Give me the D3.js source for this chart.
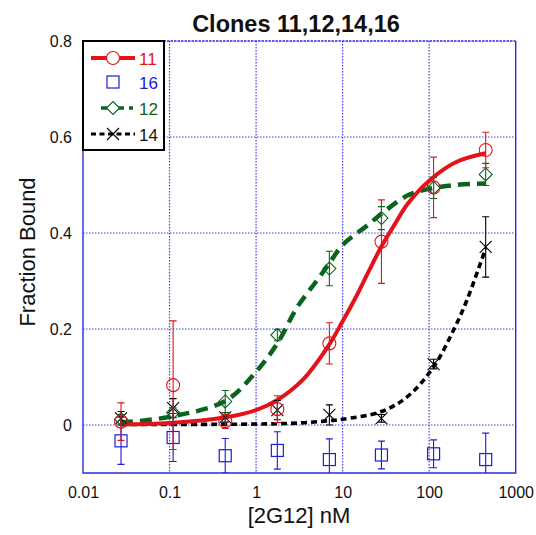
<!DOCTYPE html>
<html>
<head>
<meta charset="utf-8">
<script src="https://cdn.jsdelivr.net/npm/d3@7"></script>
<style>
  html, body { margin: 0; padding: 0; background: #ffffff; }
  svg { display: block; }
  text { font-family: Arial, "Liberation Sans", sans-serif; }
</style>
</head>
<body>
<svg id="chart" width="536" height="535"></svg>
<script>
// Antibody concentrations, nM (4-fold dilution series)
const conc = [0.0275, 0.11, 0.44, 1.76, 7.03, 28.1, 112.5, 450];

// Measured fraction bound and error for each clone
const clone11 = [0.007, 0.083, 0.008, 0.033, 0.170, 0.382, 0.495, 0.573];
const clone11Err = [0.039, 0.134, 0.015, 0.028, 0.043, 0.087, 0.063, 0.037];
const clone16 = [-0.033, -0.026, -0.064, -0.053, -0.072, -0.0625, -0.060, -0.072];
const clone16Err = [0.049, 0.050, 0.036, 0.039, 0.043, 0.029, 0.029, 0.055];
const clone12 = [0.012, 0.026, 0.049, 0.1875, 0.326, 0.431, 0.494, 0.522];
const clone12Err = [0.010, 0.010, 0.023, 0.012, 0.036, 0.024, 0.022, 0.023];
const clone14 = [0.014, 0.035, 0.016, 0.031, 0.021, 0.014, 0.127, 0.371];
const clone14Err = [0.014, 0.020, 0.010, 0.020, 0.021, 0.008, 0.010, 0.063];

// Fitted binding curves, sampled
const fit11X = [0.0275, 0.1, 0.44, 1, 1.76, 3.5, 7.03, 10, 14, 20, 28.1, 40, 56, 100, 200, 450];
const fit11Y = [0.001, 0.004, 0.016, 0.031, 0.052, 0.095, 0.168, 0.216, 0.264, 0.320, 0.372, 0.418, 0.460, 0.509, 0.547, 0.566];
const fit12X = [0.0275, 0.1, 0.44, 1, 1.76, 3, 5, 7.03, 10, 20, 28.1, 56, 100, 200, 450];
const fit12Y = [0.005, 0.017, 0.050, 0.111, 0.170, 0.246, 0.300, 0.337, 0.375, 0.418, 0.440, 0.478, 0.492, 0.500, 0.503];
const fit14X = [0.0275, 1, 3, 7.03, 10, 28.1, 56, 112.5, 200, 273, 450];
const fit14Y = [0.001, 0.002, 0.004, 0.009, 0.012, 0.028, 0.059, 0.121, 0.205, 0.260, 0.368];

// Axis ticks
const xTicks = [0.01, 0.1, 1, 10, 100, 1000];
const xTickLabels = ["0.01", "0.1", "1", "10", "100", "1000"];
const yTicks = [0, 0.2, 0.4, 0.6, 0.8];
const yTickLabels = ["0", "0.2", "0.4", "0.6", "0.8"];

const legendNames = ["11", "16", "12", "14"];

const RED = "#e3131b", BLUE = "#1c1cd6", GREEN = "#0a6420", BLACK = "#000000";
const GRID = "#4040f0";

const svg = d3.select("#chart");
const pLeft = 83, pRight = 515.7, pTop = 41, pBottom = 473;

const x = d3.scaleLog().domain([0.01, 1000]).range([pLeft, pRight]);
const y = d3.scaleLinear().domain([-0.1, 0.8]).range([pBottom, pTop]);

// clip for marks
svg.append("defs").append("clipPath").attr("id", "plotClip")
  .append("rect").attr("x", pLeft).attr("y", pTop).attr("width", pRight - pLeft).attr("height", pBottom - pTop);

// grid lines
const grid = svg.append("g");
grid.selectAll("line.vx").data(xTicks.slice(1, -1)).join("line")
  .attr("x1", d => x(d)).attr("x2", d => x(d)).attr("y1", pTop).attr("y2", pBottom)
  .attr("stroke", GRID).attr("stroke-width", 1.2).attr("stroke-dasharray", "1.5,1.5");
grid.selectAll("line.hy").data(yTicks.slice(0, -1)).join("line")
  .attr("x1", pLeft).attr("x2", pRight).attr("y1", d => y(d)).attr("y2", d => y(d))
  .attr("stroke", GRID).attr("stroke-width", 1.2).attr("stroke-dasharray", "1.5,1.5");

// frame
svg.append("line").attr("x1", pLeft).attr("x2", pRight).attr("y1", pTop).attr("y2", pTop)
  .attr("stroke", "#2a2ae0").attr("stroke-width", 1.6).attr("stroke-dasharray", "2.5,1");
svg.append("path")
  .attr("d", `M${pRight},${pTop}V${pBottom}H${pLeft}V${pTop}`)
  .attr("fill", "none").attr("stroke", "#2a2ae0").attr("stroke-width", 1.4);

// axes (labels only)
const xAxis = d3.axisBottom(x).tickValues(xTicks).tickSize(0).tickPadding(14)
  .tickFormat((d, i) => xTickLabels[i]);
svg.append("g").attr("transform", `translate(0,${pBottom})`).call(xAxis)
  .call(g => g.select(".domain").remove())
  .selectAll("text").attr("font-size", 16).attr("fill", "#111")
  .attr("font-family", "Arial, 'Liberation Sans', sans-serif");

const yAxis = d3.axisLeft(y).tickValues(yTicks).tickSize(0).tickPadding(11)
  .tickFormat((d, i) => yTickLabels[i]);
svg.append("g").attr("transform", `translate(${pLeft},0)`).call(yAxis)
  .call(g => g.select(".domain").remove())
  .selectAll("text").attr("font-size", 16).attr("fill", "#111")
  .attr("font-family", "Arial, 'Liberation Sans', sans-serif");

// titles
svg.append("text").attr("x", 296).attr("y", 32).attr("text-anchor", "middle")
  .attr("font-size", 23.5).attr("font-weight", "bold").attr("fill", "#111")
  .text("Clones 11,12,14,16");
svg.append("text").attr("x", 299).attr("y", 522.5).attr("text-anchor", "middle")
  .attr("font-size", 22).attr("fill", "#111").text("[2G12] nM");
svg.append("text").attr("transform", "translate(35,252) rotate(-90)").attr("text-anchor", "middle")
  .attr("font-size", 22).attr("fill", "#111").text("Fraction Bound");

// plot content
const plot = svg.append("g").attr("clip-path", "url(#plotClip)");

const line = d3.line().x(d => x(d[0])).y(d => y(d[1])).curve(d3.curveCatmullRom.alpha(0.5));

function drawFit(xs, ys, color, width, dash) {
  plot.append("path").datum(xs.map((v, i) => [v, ys[i]]))
    .attr("d", line).attr("fill", "none").attr("stroke", color)
    .attr("stroke-width", width).attr("stroke-dasharray", dash || null)
    .attr("stroke-linecap", "butt");
}
drawFit(fit14X, fit14Y, BLACK, 3.6, "6,4");
drawFit(fit12X, fit12Y, GREEN, 4.5, "12,7");
drawFit(fit11X, fit11Y, RED, 4, null);

// marker shapes, centred on origin
function marker(g, kind, color) {
  if (kind === "circle") {
    g.append("circle").attr("r", 6.5).attr("fill", "none").attr("stroke", color).attr("stroke-width", 1.1);
  } else if (kind === "square") {
    g.append("rect").attr("x", -6).attr("y", -6).attr("width", 12).attr("height", 12)
      .attr("fill", "none").attr("stroke", color).attr("stroke-width", 1.2);
  } else if (kind === "diamond") {
    g.append("path").attr("d", "M0,-6.5L6.5,0L0,6.5L-6.5,0Z")
      .attr("fill", "none").attr("stroke", color).attr("stroke-width", 1.1);
  } else if (kind === "x") {
    g.append("path").attr("d", "M-6,-6L6,6M-6,6L6,-6")
      .attr("fill", "none").attr("stroke", color).attr("stroke-width", 1.1);
  }
}

function drawSeries(vals, errs, color, kind) {
  const g = plot.append("g");
  conc.forEach((c, i) => {
    const cx = x(c), lo = y(vals[i] - errs[i]), hi = y(vals[i] + errs[i]);
    g.append("path")
      .attr("d", `M${cx},${lo}V${hi}M${cx - 3.5},${hi}H${cx + 3.5}M${cx - 3.5},${lo}H${cx + 3.5}`)
      .attr("fill", "none").attr("stroke", color).attr("stroke-width", 1.1);
    const m = g.append("g").attr("transform", `translate(${cx},${y(vals[i])})`);
    marker(m, kind, color);
  });
}
drawSeries(clone16, clone16Err, BLUE, "square");
drawSeries(clone14, clone14Err, BLACK, "x");
drawSeries(clone12, clone12Err, GREEN, "diamond");
drawSeries(clone11, clone11Err, RED, "circle");

// legend
const legend = svg.append("g");
legend.append("rect").attr("x", 83).attr("y", 41).attr("width", 81).attr("height", 109)
  .attr("fill", "#ffffff").attr("stroke", "#000").attr("stroke-width", 2);
const legendRows = [
  { name: legendNames[0], color: RED, kind: "circle", x1: 91, x2: 135, w: 4, dash: null, y: 58 },
  { name: legendNames[1], color: BLUE, kind: "square", x1: null, x2: null, w: 0, dash: null, y: 82 },
  { name: legendNames[2], color: GREEN, kind: "diamond", x1: 101, x2: 133, w: 3.5, dash: "9,5", y: 108 },
  { name: legendNames[3], color: BLACK, kind: "x", x1: 91, x2: 135, w: 3, dash: "5,3.5", y: 134 }
];
legendRows.forEach(r => {
  if (r.x1 !== null) {
    legend.append("line").attr("x1", r.x1).attr("x2", r.x2).attr("y1", r.y).attr("y2", r.y)
      .attr("stroke", r.color).attr("stroke-width", r.w).attr("stroke-dasharray", r.dash);
  }
  const m = legend.append("g").attr("transform", `translate(113,${r.y})`);
  if (r.kind === "circle") m.append("circle").attr("r", 6.5).attr("fill", "#fff");
  if (r.kind === "diamond") m.append("path").attr("d", "M0,-6.5L6.5,0L0,6.5L-6.5,0Z").attr("fill", "#fff");
  marker(m, r.kind, r.color);
  legend.append("text").attr("x", 139).attr("y", r.y + 6.5).attr("font-size", 17)
    .attr("fill", r.color === BLACK ? "#111" : r.color).text(r.name);
});
</script>
</body>
</html>
